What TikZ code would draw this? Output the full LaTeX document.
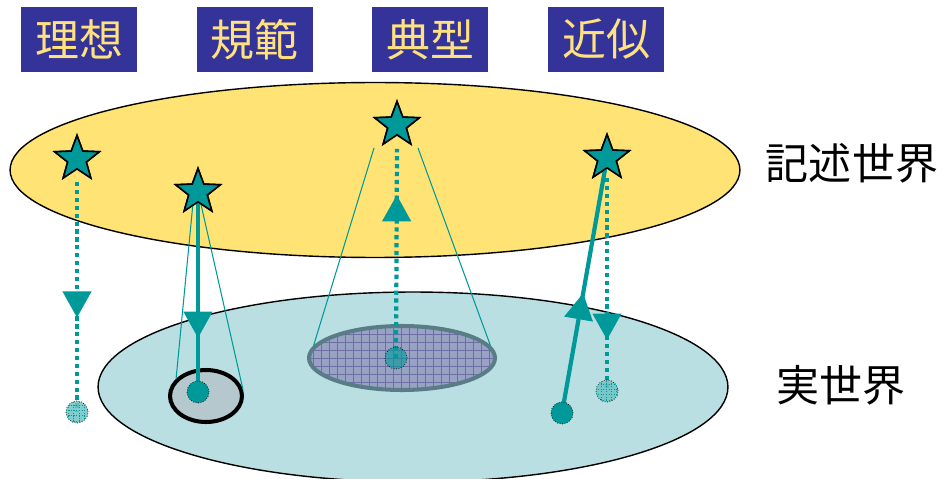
\documentclass[tikz,border=0pt]{standalone}
\usepackage{fontspec}
\newfontfamily\jpfont{Noto Sans CJK JP}
\usetikzlibrary{positioning,shapes.geometric,arrows.meta,decorations.markings,patterns}
\definecolor{tealc}{HTML}{009999}
\definecolor{navyc}{HTML}{333399}
\definecolor{tagtext}{HTML}{FFE17F}
\definecolor{descfill}{HTML}{FFE375}
\definecolor{realfill}{HTML}{BADFE2}
\definecolor{normfill}{HTML}{B5C8CE}
\definecolor{typfill}{HTML}{98A3C4}
\definecolor{typgrid}{HTML}{6E6EA6}
\definecolor{typborder}{HTML}{5A7C87}
\definecolor{hdotfill}{HTML}{6CC4C4}

\begin{document}
\begin{tikzpicture}[x=0.02cm,y=-0.02cm,
    tag/.style={fill=navyc,text=tagtext,minimum width=2.32cm,minimum height=1.3cm,
      inner sep=0pt,font=\jpfont\fontsize{25}{28}\selectfont},
    world/.style={font=\jpfont\fontsize{24.5}{28}\selectfont},
    sym/.style={star,star points=5,star point ratio=2.4,minimum size=0.94cm,
      inner sep=0pt,draw=black,line width=0.9pt,fill=tealc},
    dot/.style={circle,minimum size=0.44cm,inner sep=0pt,draw=black,
      densely dotted,line width=0.4pt,fill=tealc},
    hdot/.style={dot,fill=hdotfill,fill opacity=0.85,
      postaction={pattern=grid,pattern color=tealc}},
    dotline/.style={draw=tealc,line width=2.4pt,dash pattern=on 2.4pt off 2.1pt},
    boldline/.style={draw=tealc,line width=2.4pt},
    coneline/.style={draw=tealc,line width=0.6pt},
    midarrow/.style={postaction={decorate},decoration={markings,
      mark=at position #1 with {\arrow[tealc]{Triangle[width=16pt,length=15pt]}}}}]
  \useasboundingbox (0,0) rectangle (942,479);

  % labels on top
  \node[tag] (t1) at (79,39.5) {理想};
  \node[tag,right=1.18cm of t1] (t2) {規範};
  \node[tag,right=1.18cm of t2] (t3) {典型};
  \node[tag,right=1.18cm of t3] (t4) {近似};

  % the two worlds
  \node[ellipse,draw=black,line width=0.8pt,fill=descfill,
    minimum width=14.6cm,minimum height=3.5cm] (desc) at (375,170) {};
  \node[ellipse,draw=black,line width=0.8pt,fill=realfill,
    minimum width=12.6cm,minimum height=3.8cm] (real) at (413,387) {};
  \node[world] (wdesc) at (852,163) {記述世界};
  \node[world] (wreal) at (841,385) {実世界};

  % areas in the real world
  \node[ellipse,draw=black,line width=2.3pt,fill=normfill,
    minimum width=1.44cm,minimum height=1.04cm] (norm) at (206,396) {};
  \node[ellipse,draw=typborder,line width=2.3pt,fill=typfill,
    minimum width=3.72cm,minimum height=1.28cm,
    path picture={
      \foreach \k in {0,...,25}{
        \draw[typgrid,line width=0.4pt] (-97+8*\k,-40) -- (-97+8*\k,40);
      }
      \foreach \k in {0,...,10}{
        \draw[typgrid,line width=0.4pt] (-100,-40+8*\k) -- (100,-40+8*\k);
      }
    }] (area) at (402,358) {};

  % stars
  \node[sym] (s1) at (77,159) {};
  \node[sym] (s2) at (198,192) {};
  \node[sym] (s3) at (397,125) {};
  \node[sym] (s4) at (607,158) {};

  % points
  \coordinate (p1) at (77,412);
  \coordinate (p2) at (198,392);
  \coordinate (p3) at (396,358);
  \coordinate (p4) at (562,413);
  \coordinate (p5) at (607,391);

  % cones
  \draw[coneline] ([xshift=-0.1cm,yshift=-0.22cm]s2.center) -- (norm.150);
  \draw[coneline] ([xshift=0.04cm,yshift=-0.16cm]s2.center) -- (norm.10);
  \draw[coneline] ([xshift=-0.46cm,yshift=-0.46cm]s3.center) -- (area.172);
  \draw[coneline] ([xshift=0.42cm,yshift=-0.46cm]s3.center) -- (area.8);

  % connectors
  \draw[dotline,midarrow=0.59] ([yshift=-0.46cm]s1.center) -- (p1);
  \draw[boldline,midarrow=0.73] (s2.center) -- (p2);
  \draw[dotline,midarrow=0.78] (p3) -- ([yshift=-0.48cm]s3.center);
  \draw[boldline,midarrow=0.47] (p4) -- (s4.center);
  \draw[dotline,midarrow=0.76] ([yshift=-0.4cm]s4.center) -- (p5);

  % redraw stars on top of the lines
  \foreach \s in {s1,s2,s3,s4}{
    \node[sym] at (\s) {};
  }

  % dots
  \node[hdot] (d1) at (p1) {};
  \node[dot] (d2) at (p2) {};
  \node[dot,fill opacity=0.6] (d3) at (p3) {};
  \node[dot] (d4) at (p4) {};
  \node[hdot] (d5) at (p5) {};
\end{tikzpicture}
\end{document}
